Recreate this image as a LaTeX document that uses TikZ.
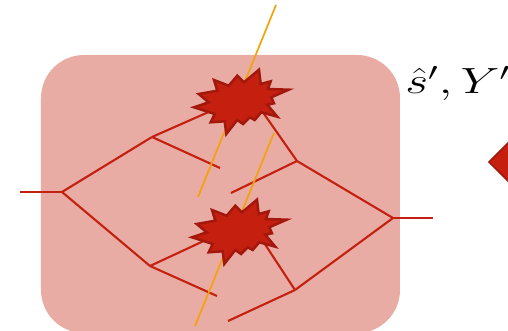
\documentclass[tikz,border=0pt]{standalone}
\usepackage{graphicx}

\definecolor{boxpink}{HTML}{E9ACA4}
\definecolor{wirered}{HTML}{C4200F}
\definecolor{blastred}{HTML}{C41F0F}
\definecolor{blastedge}{HTML}{A3180C}
\definecolor{rayorange}{HTML}{F2A20A}

\tikzset{
  wire/.style={draw=wirered, line width=0.42mm},
  ray/.style={draw=rayorange, line width=0.34mm},
  blast/.pic={
    \path[draw=blastedge, fill=blastred, line width=0.5mm, line join=miter]
      (-46,-5.3) -- (-31.3,-0.3) -- (-41.3,8) -- (-22.7,11.3) -- (-26,22)
      -- (-11.3,16.3) -- (-2.7,26.3) -- (4,19.7) -- (19,32.3) -- (20.7,18)
      -- (30.7,20.7) -- (28,13) -- (48.7,12.3) -- (31.3,4.7) -- (34,-1.3)
      -- (27.3,-2.7) -- (37.3,-14.7) -- (21.3,-10.3) -- (14.7,-18)
      -- (9.7,-15.3) -- (3,-22) -- (-2.7,-18) -- (-13.7,-32) -- (-15.3,-19.3)
      -- (-29.3,-20.3) -- (-25.3,-12) -- cycle;
  }
}

\begin{document}
\begin{tikzpicture}[x=0.2mm, y=0.2mm]
\clip (0,0) rectangle (508,331);

% background box
\path[fill=boxpink, rounded corners=8.6mm] (41,-2) rectangle (400,276);

% vertices and line ends
\coordinate (in) at (20,139);
\coordinate (L) at (62,139);
\coordinate (a1) at (152,194);
\coordinate (e1) at (220,163);
\coordinate (h1) at (229,228);
\coordinate (a2) at (150,65);
\coordinate (e2) at (217,35);
\coordinate (h2) at (223,99);
\coordinate (R) at (393,113);
\coordinate (out) at (433,113);
\coordinate (b1) at (297,170);
\coordinate (f1) at (231,138);
\coordinate (k1) at (255,230);
\coordinate (b2) at (295,41);
\coordinate (f2) at (228,10);
\coordinate (k2) at (253,105);

% rays
\coordinate (r1) at (276,326);
\coordinate (s1) at (198,134);
\coordinate (r2) at (274,198);
\coordinate (s2) at (195,5);

\path[wire] (in) -- (L);
\path[wire] (L) -- (a1);
\path[wire] (L) -- (a2);
\path[wire] (a1) -- (h1);
\path[wire] (a1) -- (e1);
\path[wire] (a2) -- (h2);
\path[wire] (a2) -- (e2);
\path[wire] (R) -- (out);
\path[wire] (R) -- (b1);
\path[wire] (R) -- (b2);
\path[wire] (b1) -- (k1);
\path[wire] (b1) -- (f1);
\path[wire] (b2) -- (k2);
\path[wire] (b2) -- (f2);

\path[ray] (r1) -- (s1);
\path[ray] (r2) -- (s2);

\pic at (240,229) {blast};
\pic at (238,99) {blast};

% label and marker on the right
\node[anchor=base west, inner sep=0pt, font=\fontsize{20.5}{24}\selectfont] (lbl) at (405,237) {\scalebox{1.36}[1]{$\hat{s}', Y'$}};
\path[draw=blastedge, fill=blastred, line width=0.3mm] (489,169) -- (510,190) -- (531,169) -- (510,148) -- cycle;
\end{tikzpicture}
\end{document}
